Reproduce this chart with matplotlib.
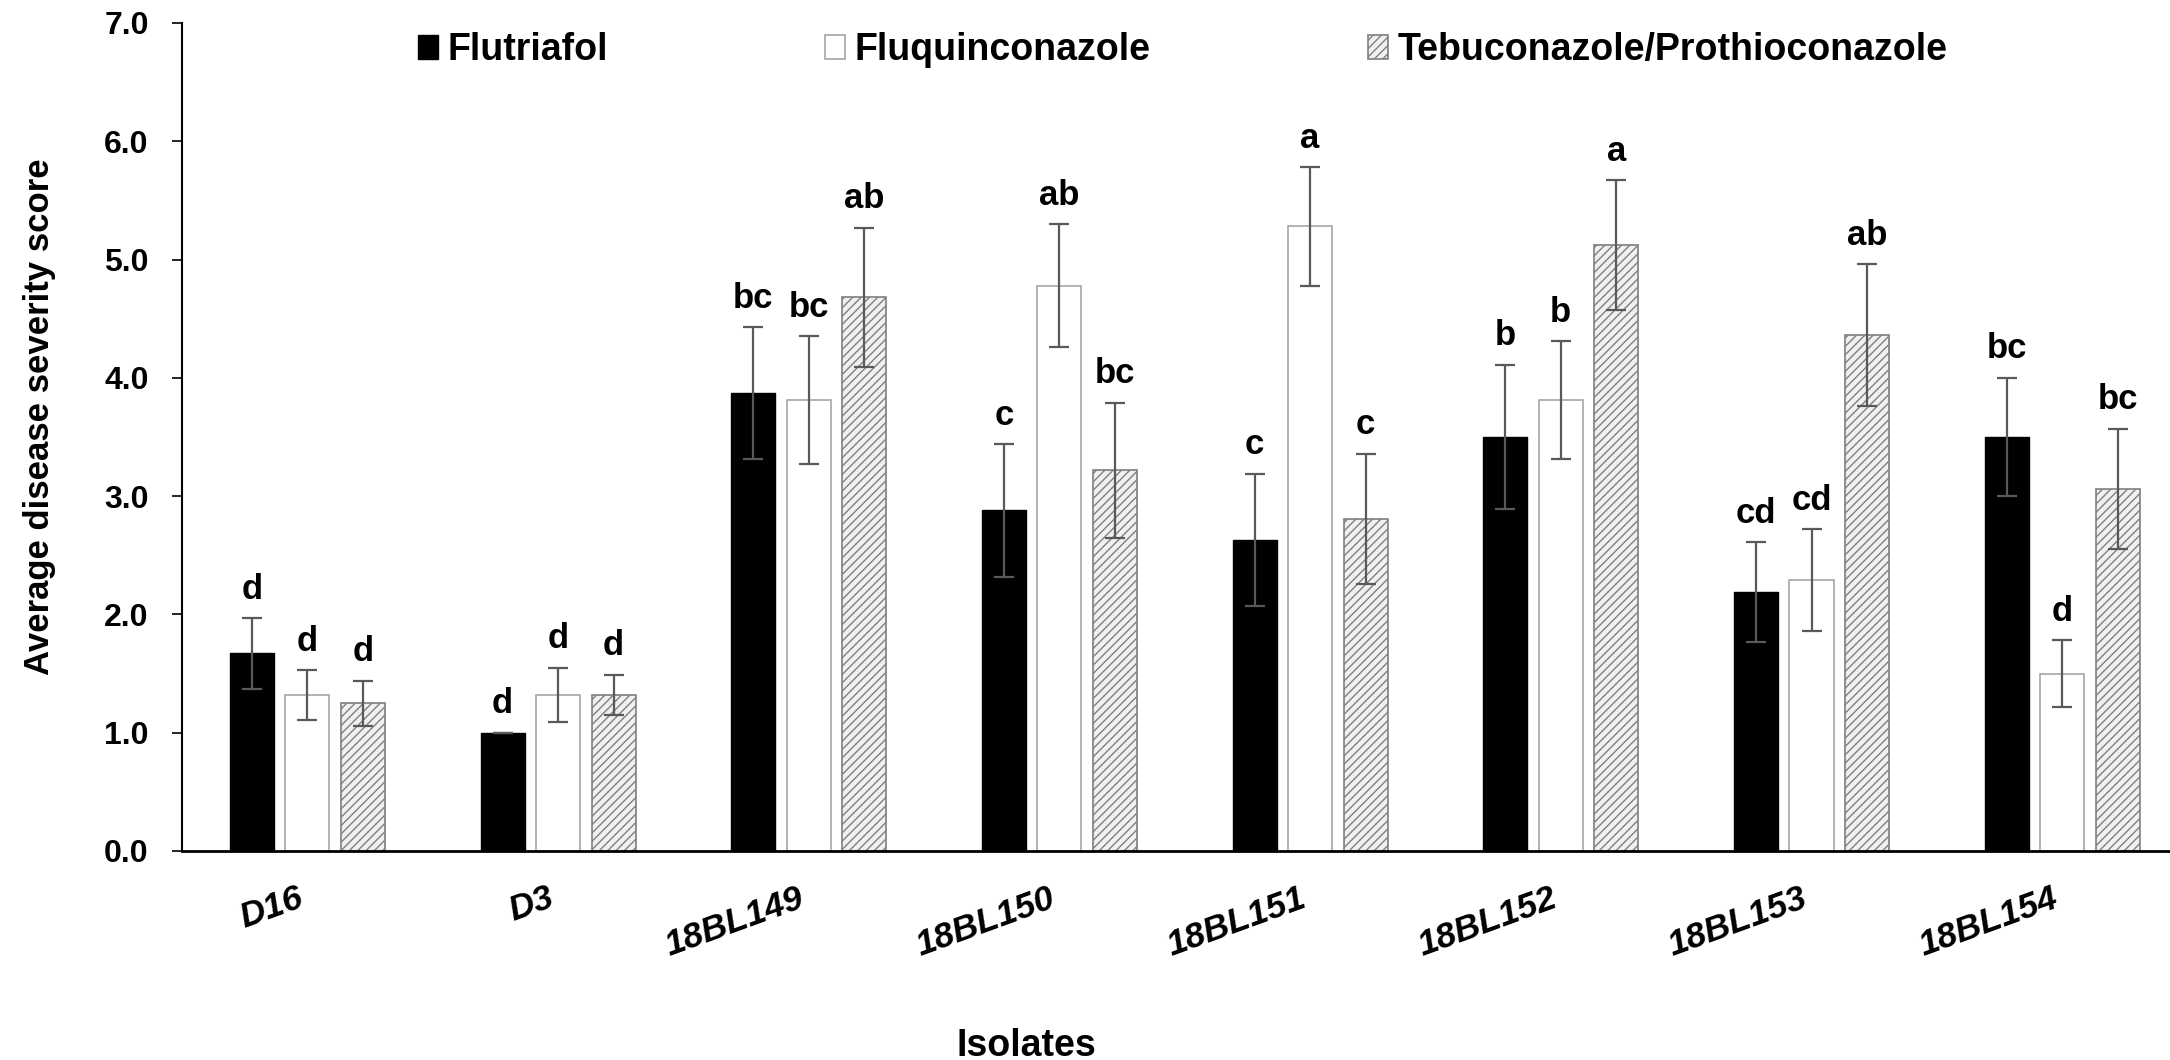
import numpy as np
import matplotlib
matplotlib.use("Agg")
import matplotlib.pyplot as plt

plt.rcParams['font.family'] = ['Liberation Sans', 'DejaVu Sans']
plt.rcParams['font.weight'] = 'bold'
plt.rcParams['hatch.linewidth'] = 1.0

# data ###################################################################
isolates = ['D16', 'D3', '18BL149', '18BL150', '18BL151', '18BL152', '18BL153', '18BL154']
treatments = ['Flutriafol', 'Fluquinconazole', 'Tebuconazole/Prothioconazole']

flutriafol = [1.67, 1.00, 3.87, 2.88, 2.63, 3.50, 2.19, 3.50]
fluquinconazole = [1.32, 1.32, 3.81, 4.78, 5.28, 3.81, 2.29, 1.50]
tebu_prothio = [1.25, 1.32, 4.68, 3.22, 2.81, 5.12, 4.36, 3.06]

flutriafol_err = [0.30, 0.00, 0.56, 0.56, 0.56, 0.61, 0.42, 0.50]
fluquinconazole_err = [0.21, 0.23, 0.54, 0.52, 0.50, 0.50, 0.43, 0.28]
tebu_prothio_err = [0.19, 0.17, 0.59, 0.57, 0.55, 0.55, 0.60, 0.51]

flutriafol_letters = ['d', 'd', 'bc', 'c', 'c', 'b', 'cd', 'bc']
fluquinconazole_letters = ['d', 'd', 'bc', 'ab', 'a', 'b', 'cd', 'd']
tebu_prothio_letters = ['d', 'd', 'ab', 'bc', 'c', 'a', 'ab', 'bc']

yticks = [0, 1, 2, 3, 4, 5, 6, 7]

# plot ###################################################################
fig = plt.figure(figsize=(21.7, 10.6), dpi=100)
ax = fig.add_axes([182/2170, 209/1060, 1 - 182/2170, (851-23)/1060])

x = np.arange(len(isolates))
w = 0.1756
step = 0.2215

series = [
    (flutriafol, flutriafol_err, flutriafol_letters, dict(color='black', edgecolor='black', linewidth=1)),
    (fluquinconazole, fluquinconazole_err, fluquinconazole_letters, dict(color='white', edgecolor='#a6a6a6', linewidth=1.2)),
    (tebu_prothio, tebu_prothio_err, tebu_prothio_letters, dict(color='#f0f0f0', edgecolor='#7f7f7f', linewidth=1.2, hatch='////')),
]

handles = []
for i, (vals, errs, letters, style) in enumerate(series):
    xs = x + (i - 1) * step
    b = ax.bar(xs, vals, w, **style, label=treatments[i])
    handles.append(b)
    ax.errorbar(xs, vals, yerr=errs, fmt='none', ecolor='#595959', elinewidth=1.6,
                capsize=7, capthick=1.6)
    for xi, v, e, t in zip(xs, vals, errs, letters):
        ax.annotate(t, (xi, v + e), xytext=(0, 14), textcoords='offset points',
                    ha='center', va='baseline', fontsize=25, fontweight='bold')

ax.set_xlim(-0.5, 7.43)
ax.set_ylim(0, 7)
ax.set_yticks(yticks)
ax.set_yticklabels([f'{t:.1f}' for t in yticks])
ax.set_xticks(x)
ax.set_xticklabels(isolates, rotation=20, ha='right', fontstyle='italic')

ax.tick_params(axis='y', length=7, width=1.2, pad=17, labelsize=23)
ax.tick_params(axis='x', length=0, pad=22, labelsize=25.5)

for s in ['top', 'right']:
    ax.spines[s].set_visible(False)
ax.spines['left'].set_linewidth(1.5)
ax.spines['bottom'].set_linewidth(2.0)

fig.text(40/2170, 1 - 417/1060, 'Average disease severity score', rotation=90,
         ha='center', va='center', fontsize=25, fontweight='bold')
fig.text(1026/2170, 1 - 1056/1060, 'Isolates', ha='center', va='baseline',
         fontsize=27, fontweight='bold')

fig.legend(handles=handles, labels=treatments, loc='center left',
           bbox_to_anchor=(418/2170, 1 - 50/1060), ncol=3, frameon=False,
           fontsize=27, handlelength=0.53, handleheight=0.6, handletextpad=0.25,
           columnspacing=5.8, borderpad=0, borderaxespad=0)

fig.savefig('out.png', dpi=100)
